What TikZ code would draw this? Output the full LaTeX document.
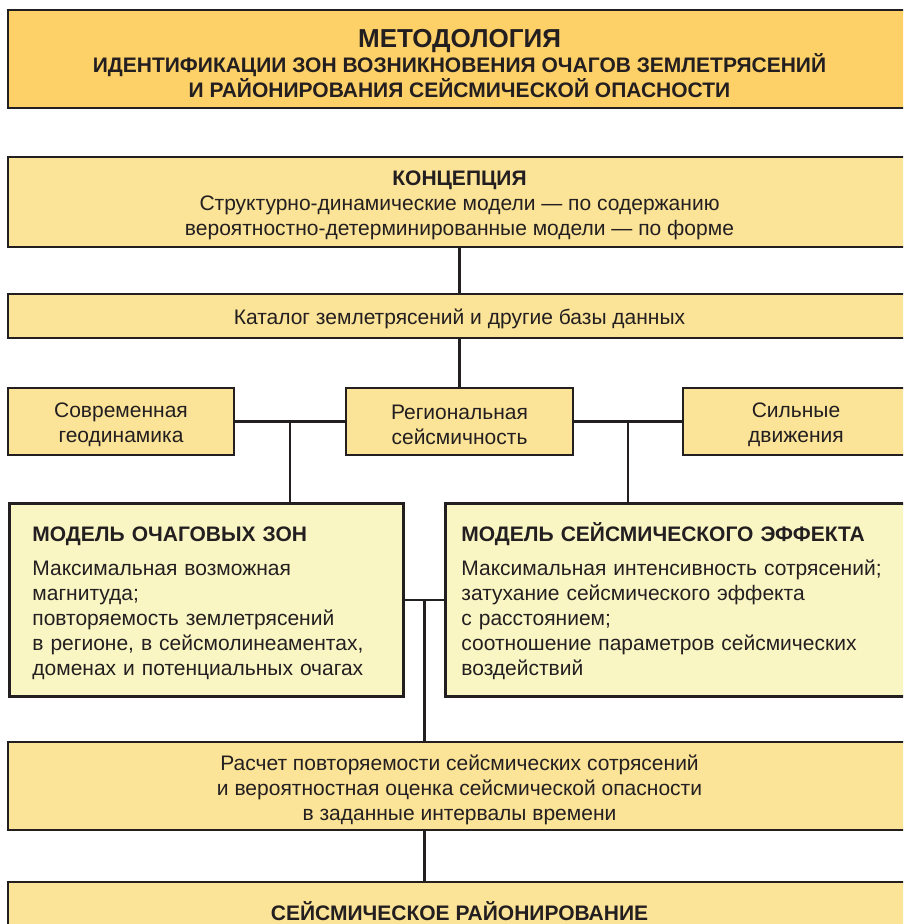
\documentclass[tikz,border=0pt]{standalone}
\usepackage{fontspec}
\setmainfont{Liberation Sans}
\usetikzlibrary{positioning,calc}
\definecolor{ochre}{HTML}{FDD068}
\definecolor{sand}{HTML}{FBE397}
\definecolor{cream}{HTML}{FAF6C4}
\definecolor{ink}{HTML}{231F20}
\newcommand{\lift}{\rule{0pt}{21pt}}

\begin{document}
\begin{tikzpicture}[x=1pt,y=-1pt,
  box/.style={draw=ink,line width=2.8pt,inner sep=0pt,align=center,text=ink,
    font=\fontsize{21}{25}\selectfont},
  model/.style={box,fill=cream,align=left,anchor=north west,
    text width=#1,minimum height=193pt},
  link/.style={draw=ink,line width=2.6pt}]
\clip (0,0) rectangle (903,924);
\node[box,fill=ochre,minimum width=903pt,minimum height=98pt] (title) at (459.5,59)
  {\fontsize{26}{27}\selectfont\bfseries\rule{0pt}{27pt}МЕТОДОЛОГИЯ\\
   \fontsize{21}{25}\selectfont\bfseries ИДЕНТИФИКАЦИИ ЗОН ВОЗНИКНОВЕНИЯ ОЧАГОВ ЗЕМЛЕТРЯСЕНИЙ\\
   \fontsize{21}{25}\selectfont\bfseries И РАЙОНИРОВАНИЯ СЕЙСМИЧЕСКОЙ ОПАСНОСТИ};
\node[box,fill=sand,minimum width=903pt,minimum height=90pt] (concept) at (459.5,202)
  {\lift\textbf{КОНЦЕПЦИЯ}\\
   Структурно-динамические модели --- по содержанию\\
   вероятностно-детерминированные модели --- по форме};
\node[box,fill=sand,minimum width=903pt,minimum height=44pt] (catalog) at (459.5,316)
  {\lift Каталог землетрясений и другие базы данных};
\node[box,fill=sand,minimum width=227pt,minimum height=67pt] (region) at (459.5,421.5)
  {\lift Региональная\\сейсмичность};
\node[box,fill=sand,minimum width=226pt,minimum height=67pt] (geodyn) at (121,421.5)
  {\lift Современная\\геодинамика};
\node[box,fill=sand,minimum width=226pt,minimum height=67pt] (strong) at (796,421.5)
  {\lift Сильные\\движения};
\node[model=348pt,inner xsep=23pt] (zones) at (8,502)
  {\lift\textbf{МОДЕЛЬ ОЧАГОВЫХ ЗОН}\\[9pt]
   Максимальная возможная\\
   магнитуда;\\
   повторяемость землетрясений\\
   в регионе, в сейсмолинеаментах,\\
   доменах и потенциальных очагах};
\node[model=440pt,inner xsep=16pt] (effect) at (444,502)
  {\lift\textbf{МОДЕЛЬ СЕЙСМИЧЕСКОГО ЭФФЕКТА}\\[9pt]
   Максимальная интенсивность сотрясений;\\
   затухание сейсмического эффекта\\
   с расстоянием;\\
   соотношение параметров сейсмических\\
   воздействий};
\node[box,fill=sand,minimum width=903pt,minimum height=88pt] (calc) at (459.5,786)
  {\rule{0pt}{23pt}Расчет повторяемости сейсмических сотрясений\\
   и вероятностная оценка сейсмической опасности\\
   в заданные интервалы времени};
\node[box,fill=sand,minimum width=903pt,minimum height=56pt] (zoning) at (459.5,910)
  {\lift\textbf{СЕЙСМИЧЕСКОЕ РАЙОНИРОВАНИЕ}};
\coordinate (jl) at ($(geodyn.east)!0.5!(region.west)$);
\coordinate (jr) at ($(region.east)!0.5!(strong.west)$);
\coordinate (jm) at ($(zones.east)!0.5!(effect.west)$);
\draw[link] (concept) -- (catalog);
\draw[link] (catalog) -- (region);
\draw[link] (geodyn) -- (region);
\draw[link] (region) -- (strong);
\draw[link] (jl) -- (jl |- zones.north);
\draw[link] (jr) -- (jr |- effect.north);
\draw[link] (zones.east) -- (effect.west);
\draw[link] (jm) -- (jm |- calc.north);
\draw[link] (jm |- calc.south) -- (jm |- zoning.north);
\end{tikzpicture}
\end{document}
